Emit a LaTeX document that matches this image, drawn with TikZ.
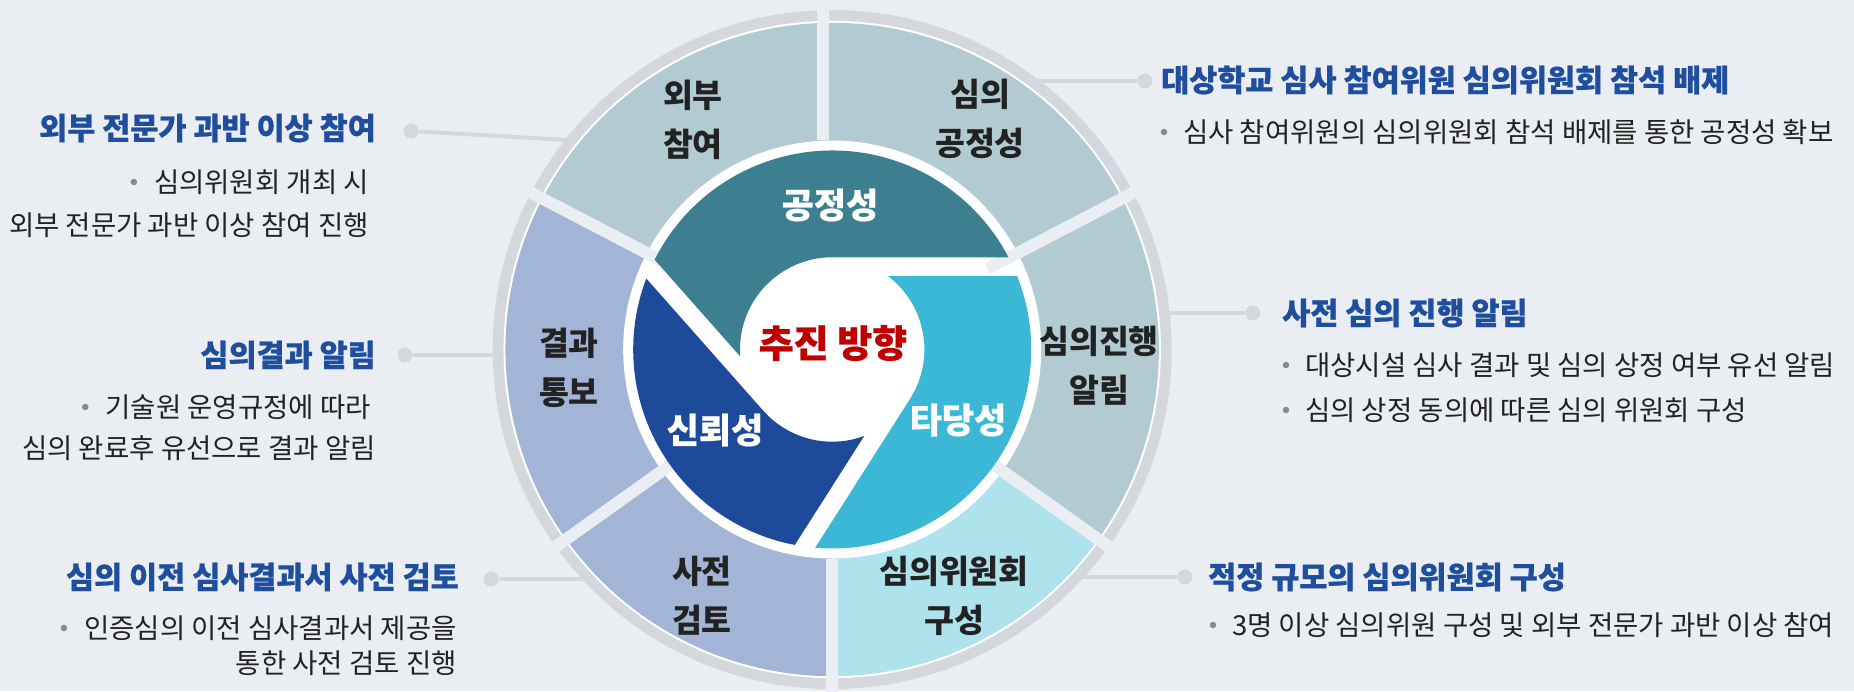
\documentclass[tikz,border=0pt]{standalone}
\usepackage{fontspec}
\newfontfamily\kr{Noto Sans CJK KR}
\newfontfamily\krH[BoldFeatures={FakeBold=0.6}]{Noto Sans CJK KR}
\definecolor{bg}{HTML}{EAEEF2}
\definecolor{ringgray}{HTML}{D4D8DD}
\definecolor{segA}{HTML}{B2CBD3}
\definecolor{segB}{HTML}{A3B5D7}
\definecolor{segC}{HTML}{AEE2ED}
\definecolor{pteal}{HTML}{3C7F91}
\definecolor{pcyan}{HTML}{3BB8D5}
\definecolor{pblue}{HTML}{1E4A9C}
\definecolor{titleblue}{HTML}{1F4E9F}
\definecolor{txt}{HTML}{222222}
\definecolor{bul}{HTML}{8A8A8A}
\definecolor{cred}{HTML}{C00000}
\definecolor{lead}{HTML}{D4D8DD}
\tikzset{
  titletext/.style={font=\krH\bfseries\fontsize{30.5}{34}\selectfont, text=titleblue, inner sep=0pt},
  bodytext/.style={font=\kr\fontsize{27.5}{32}\selectfont, text=txt, inner sep=0pt},
  seglabel/.style={font=\kr\bfseries\fontsize{32.5}{49}\selectfont, text=txt, align=center, inner sep=0pt},
  piecelabel/.style={font=\krH\bfseries\fontsize{35}{38}\selectfont, text=white, inner sep=0pt},
  leadline/.style={draw=lead, line width=4pt},
  leaddot/.style={circle, fill=lead, minimum size=15pt, inner sep=0pt},
  bulletdot/.style={circle, fill=bul, minimum size=6.5pt, inner sep=0pt},
  gapbar/.style={draw=bg, line width=12pt},
}
\begin{document}
\begin{tikzpicture}[x=1pt,y=1pt]
% background and bounding box (origin = circle centre)
\fill[bg] (-832.2,-341.5) rectangle (1021.8,349.5);
\useasboundingbox (-832.2,-341.5) rectangle (1021.8,349.5);

% ---------- leader lines (image coordinates) ----------
\begin{scope}[shift={(-832.2,349.5)}, yscale=-1]
  \node[leaddot] (d1) at (411,131) {};
  \node[leaddot] (d2) at (405,355) {};
  \node[leaddot] (d3) at (491,579) {};
  \node[leaddot] (d4) at (1145,81) {};
  \node[leaddot] (d5) at (1253,313) {};
  \node[leaddot] (d6) at (1185,577) {};
  \coordinate (e1) at (585,141);
  \coordinate (e2) at (515,355);
  \coordinate (e3) at (600,579);
  \coordinate (e4) at (1020,81);
  \coordinate (e5) at (1150,313);
  \coordinate (e6) at (1070,577);
  \draw[leadline] (d1) -- (e1);
  \draw[leadline] (d2) -- (e2);
  \draw[leadline] (d3) -- (e3);
  \draw[leadline] (d4) -- (e4);
  \draw[leadline] (d5) -- (e5);
  \draw[leadline] (d6) -- (e6);
\end{scope}

% ---------- outer ring ----------
\fill[ringgray] (0,0) circle[radius=339.5pt];
\fill[white] (0,0) circle[radius=328.7pt];
\fill[segA] (0,0) -- (90:326.7) arc[start angle=90, end angle=152.5, radius=326.7pt] -- cycle;
\fill[segB] (0,0) -- (152.5:326.7) arc[start angle=152.5, end angle=270, radius=326.7pt] -- cycle;
\fill[segC] (0,0) -- (270:326.7) arc[start angle=270, end angle=324.5, radius=326.7pt] -- cycle;
\fill[segA] (0,0) -- (-35.5:326.7) arc[start angle=-35.5, end angle=90, radius=326.7pt] -- cycle;
\fill[white] (0,0) circle[radius=209pt];
\draw[gapbar] (27.5:175) -- (27.5:352);
\draw[gapbar] (152.5:175) -- (152.5:352);
\draw[gapbar] (-35.5:175) -- (-35.5:352);
\draw[gapbar] (215.5:175) -- (215.5:352);
\draw[gapbar] (-9.2,209) -- (-9.2,352);
\draw[gapbar] (0,-209) -- (0,-352);

% ---------- inner swirl pieces ----------
\fill[pteal] (184.35:92.2) -- (153.17:199) arc[start angle=153.17, end angle=27.6, radius=199pt]
  -- (90:92.2) arc[start angle=90, end angle=184.35, radius=92.2pt] -- cycle;
\fill[pcyan] (52.85:92.2) -- (21.67:199) arc[start angle=21.67, end angle=-94.9, radius=199pt]
  -- (-32.5:92.2) arc[start angle=-32.5, end angle=52.85, radius=92.2pt] -- cycle;
\fill[pblue] (-69.65:92.2) -- (-100.83:199) arc[start angle=-100.83, end angle=-200.9, radius=199pt]
  -- (-138.5:92.2) arc[start angle=-138.5, end angle=-69.65, radius=92.2pt] -- cycle;

% ---------- texts (image coordinates) ----------
\begin{scope}[shift={(-832.2,349.5)}, yscale=-1]
  % ring labels
  \node[seglabel] (s1) at (693,120) {외부\\참여};
  \node[seglabel] (s2) at (980,119) {심의\\공정성};
  \node[seglabel] (s3) at (1099,366) {심의진행\\알림};
  \node[seglabel] (s4) at (954,596) {심의위원회\\구성};
  \node[seglabel] (s5) at (702,596) {사전\\검토};
  \node[seglabel] (s6) at (569,368) {결과\\통보};
  % piece labels
  \node[piecelabel] (p1) at (830,205) {공정성};
  \node[piecelabel] (p2) at (958,420) {타당성};
  \node[piecelabel] (p3) at (715,430) {신뢰성};
  \node[piecelabel, font=\krH\bfseries\fontsize{38}{40}\selectfont, text=cred] (p0) at (833,343) {추진 방향};

  % left side
  \node[titletext, anchor=east] (t1) at (376,128) {외부 전문가 과반 이상 참여};
  \node[bodytext, anchor=east] (t1a) at (369,182) {심의위원회 개최 시};
  \node[bodytext, anchor=east] (t1b) at (369,225) {외부 전문가 과반 이상 참여 진행};
  \node[bulletdot] (u1) at ([xshift=-20pt]t1a.west) {};

  \node[titletext, anchor=east] (t2) at (376,355) {심의결과 알림};
  \node[bodytext, anchor=east] (t2a) at (371,407) {기술원 운영규정에 따라};
  \node[bodytext, anchor=east] (t2b) at (376,448) {심의 완료후 유선으로 결과 알림};
  \node[bulletdot] (u2) at ([xshift=-20pt]t2a.west) {};

  \node[titletext, anchor=east] (t3) at (459,577) {심의 이전 심사결과서 사전 검토};
  \node[bodytext, anchor=east] (t3a) at (457,628) {인증심의 이전 심사결과서 제공을};
  \node[bodytext, anchor=east] (t3b) at (457,663) {통한 사전 검토 진행};
  \node[bulletdot] (u3) at ([xshift=-20pt]t3a.west) {};

  % right side
  \node[titletext, anchor=west] (t4) at (1161,80) {대상학교 심사 참여위원 심의위원회 참석 배제};
  \node[bodytext, anchor=west] (t4a) at (1183,132) {심사 참여위원의 심의위원회 참석 배제를 통한 공정성 확보};
  \node[bulletdot] (u4) at ([xshift=-19pt]t4a.west) {};

  \node[titletext, anchor=west] (t5) at (1282,313) {사전 심의 진행 알림};
  \node[bodytext, anchor=west] (t5a) at (1305,365) {대상시설 심사 결과 및 심의 상정 여부 유선 알림};
  \node[bodytext, anchor=west] (t5b) at (1305,410) {심의 상정 동의에 따른 심의 위원회 구성};
  \node[bulletdot] (u5) at ([xshift=-19pt]t5a.west) {};
  \node[bulletdot] (u6) at ([xshift=-19pt]t5b.west) {};

  \node[titletext, anchor=west] (t6) at (1208,577) {적정 규모의 심의위원회 구성};
  \node[bodytext, anchor=west] (t6a) at (1232,625) {3명 이상 심의위원 구성 및 외부 전문가 과반 이상 참여};
  \node[bulletdot] (u7) at ([xshift=-19pt]t6a.west) {};
\end{scope}
\end{tikzpicture}
\end{document}
